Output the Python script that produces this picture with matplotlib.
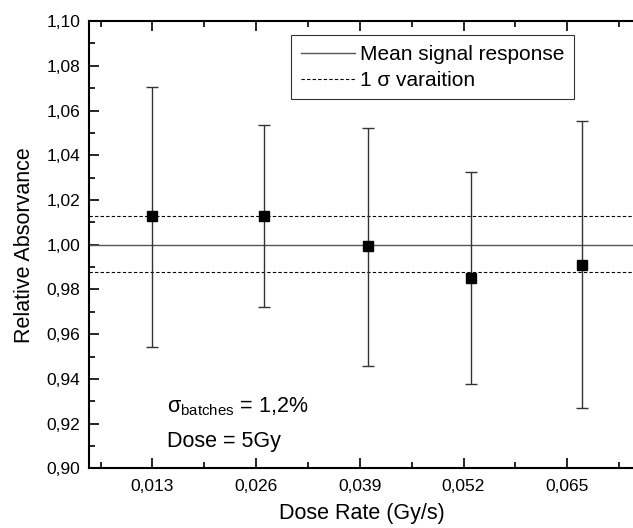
import matplotlib
matplotlib.use("Agg")
import matplotlib.pyplot as plt
from matplotlib.ticker import MultipleLocator, FuncFormatter

plt.rcParams['font.family'] = ['Liberation Sans', 'DejaVu Sans']
plt.rcParams['mathtext.fontset'] = 'custom'
plt.rcParams['mathtext.rm'] = 'Liberation Sans'

# data
dose_rate = [0.0130, 0.0270, 0.0400, 0.0529, 0.0669]
absorb = [1.0128, 1.0130, 0.9993, 0.9852, 0.9911]
err_top = [1.0706, 1.0536, 1.0524, 1.0324, 1.0552]
err_bot = [0.9544, 0.9720, 0.9459, 0.9378, 0.9268]
mean_resp = 1.0
sigma_hi = 1.0127
sigma_lo = 0.9876
xticks = [0.013, 0.026, 0.039, 0.052, 0.065]
xminor = [0.0065, 0.0195, 0.0325, 0.0455, 0.0585, 0.0715]

yerr = [[a - b for a, b in zip(absorb, err_bot)],
        [t - a for a, t in zip(absorb, err_top)]]

fig = plt.figure(figsize=(6.33, 5.28), dpi=100)
ax = fig.add_axes([0.140, 0.113, 0.862, 0.847])

ax.axhline(mean_resp, color='#555555', lw=1.0, label='Mean signal response')
ax.axhline(sigma_hi, color='black', lw=0.8, ls=(0, (3, 2)), label='1 σ varaition')
ax.axhline(sigma_lo, color='black', lw=0.8, ls=(0, (3, 2)))

ax.errorbar(dose_rate, absorb, yerr=yerr, fmt='s', color='black', ms=6.5,
            ecolor='#333333', elinewidth=1.0, capsize=4, capthick=1.0)

ax.set_xlim(0.005, 0.0734)
ax.set_ylim(0.90, 1.10)
ax.set_xticks(xticks)
ax.set_xticks(xminor, minor=True)
ax.yaxis.set_major_locator(MultipleLocator(0.02))
ax.yaxis.set_minor_locator(MultipleLocator(0.01))
ax.xaxis.set_major_formatter(FuncFormatter(lambda v, p: f"{v:.3f}".replace('.', ',')))
ax.yaxis.set_major_formatter(FuncFormatter(lambda v, p: f"{v:.2f}".replace('.', ',')))

ax.tick_params(which='both', direction='in', top=True, right=False, labelsize=12.5, width=1.2)
ax.tick_params(which='major', length=7)
ax.tick_params(which='minor', length=4)
ax.tick_params(axis='x', which='major', pad=8)
ax.tick_params(axis='y', which='major', pad=6)
for s in ['left', 'bottom', 'top']:
    ax.spines[s].set_linewidth(1.5)
ax.spines['right'].set_visible(False)

ax.set_xlabel('Dose Rate (Gy/s)', fontsize=15.5, labelpad=6)
ax.set_ylabel('Relative Absorvance', fontsize=15.5, labelpad=8)

leg = ax.legend(loc='upper right', bbox_to_anchor=(0.889, 0.968), borderaxespad=0,
                fontsize=15, frameon=True, fancybox=False, handlelength=2.6,
                borderpad=0.45, labelspacing=0.35, handletextpad=0.25)
leg.get_frame().set_edgecolor('black')
leg.get_frame().set_linewidth(0.8)

ax.text(0.143, 0.124, r'σ$_{\mathregular{batches}}$ = 1,2%', transform=ax.transAxes, fontsize=15.5)
ax.text(0.143, 0.048, 'Dose = 5Gy', transform=ax.transAxes, fontsize=15.5)

fig.savefig('out.png', dpi=100)
